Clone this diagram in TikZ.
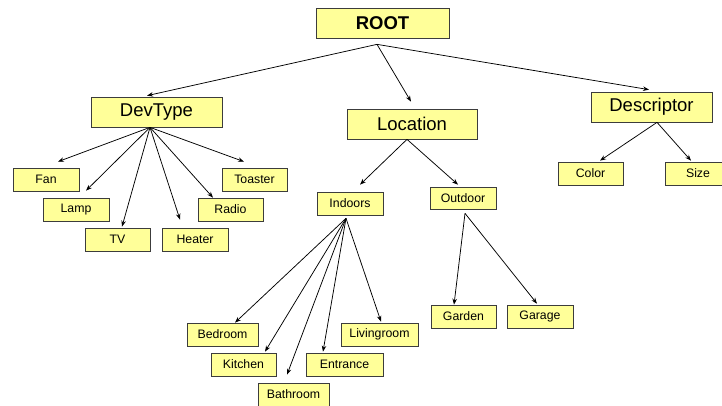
\documentclass[tikz,border=0pt]{standalone}
\usepackage{fontspec}
\setmainfont{Liberation Sans}
\usetikzlibrary{arrows.meta,shadows}
\definecolor{boxfill}{RGB}{255,255,153}
\definecolor{boxline}{RGB}{60,60,60}
\tikzset{
  box/.style={draw=boxline, line width=0.7pt, fill=boxfill, inner sep=0pt,
    drop shadow={shadow xshift=1.4pt, shadow yshift=-1.4pt, fill=black!75, opacity=1}},
  bigbox/.style={box, minimum height=30pt, font=\fontsize{18.5}{20}\selectfont},
  smallbox/.style={box, minimum height=23pt, font=\fontsize{12.3}{14}\selectfont},
  link/.style={line width=0.75pt, -{Stealth[length=6pt,width=4.5pt]}}
}
\begin{document}
\begin{tikzpicture}[x=1pt,y=-1pt]
\useasboundingbox (0,0) rectangle (722,405);

% top level
\node[bigbox, minimum width=133pt, font=\fontsize{18.5}{20}\selectfont\bfseries] (root) at (382.5,23) {ROOT};
\node[bigbox, minimum width=131pt] (devtype) at (156.5,112) {DevType};
\node[bigbox, minimum width=130pt] (location) at (412,124) {Location};
\node[bigbox, minimum width=121pt] (descriptor) at (651.5,107) {Descriptor};

% device types
\node[smallbox, minimum width=66pt] (fan) at (46,179.5) {Fan};
\node[smallbox, minimum width=66pt] (lamp) at (76,209.5) {Lamp};
\node[smallbox, minimum width=65pt] (tv) at (117.5,239.5) {TV};
\node[smallbox, minimum width=66pt] (heater) at (195,239.5) {Heater};
\node[smallbox, minimum width=65pt] (radio) at (230.5,209.5) {Radio};
\node[smallbox, minimum width=65pt] (toaster) at (254.5,179.5) {Toaster};

% locations
\node[smallbox, minimum width=66pt] (indoors) at (350,203.5) {Indoors};
\node[smallbox, minimum width=66pt, minimum height=22pt] (outdoor) at (463,198) {Outdoor};
\node[smallbox, minimum width=71pt] (bedroom) at (222.5,334.5) {Bedroom};
\node[smallbox, minimum width=65pt] (kitchen) at (243.5,364.5) {Kitchen};
\node[smallbox, minimum width=71pt] (bathroom) at (293.5,394.5) {Bathroom};
\node[smallbox, minimum width=77pt] (entrance) at (344.5,364.5) {Entrance};
\node[smallbox, minimum width=77pt] (livingroom) at (379.5,334.5) {Livingroom};
\node[smallbox, minimum width=65pt] (garden) at (463.5,316.5) {Garden};
\node[smallbox, minimum width=66pt] (garage) at (540,316.5) {Garage};

% descriptors
\node[smallbox, minimum width=65pt] (color) at (590.5,173.5) {Color};
\node[smallbox, minimum width=66pt] (size) at (698,173.5) {Size};

% fan-out points below each parent
\coordinate (roothub) at ([shift={(-5.5,6)}]root.south);
\coordinate (devhub) at ([shift={(-6.5,0)}]devtype.south);
\coordinate (lochub) at ([shift={(-5,0)}]location.south);
\coordinate (deschub) at ([shift={(5.5,0)}]descriptor.south);
\coordinate (inhub) at ([shift={(-4,3)}]indoors.south);
\coordinate (outhub) at ([shift={(2,4)}]outdoor.south);

\draw[link] (roothub) -- ([shift={(-9.5,-1)}]devtype.north);
\draw[link] (roothub) -- ([shift={(-1,-7)}]location.north);
\draw[link] (roothub) -- ([shift={(-2.5,-2)}]descriptor.north);

\draw[link] (devhub) -- ([shift={(12,-6)}]fan.north);
\draw[link] (devhub) -- ([shift={(10,-7)}]lamp.north);
\draw[link] (devhub) -- ([shift={(4.5,-1)}]tv.north);
\draw[link] (devhub) -- ([shift={(-15,-8)}]heater.north);
\draw[link] (devhub) -- ([shift={(-17.5,0)}]radio.north);
\draw[link] (devhub) -- ([shift={(-10.5,-6)}]toaster.north);

\draw[link] (lochub) -- ([shift={(10,-7)}]indoors.north);
\draw[link] (lochub) -- ([shift={(-5,-2)}]outdoor.north);

\draw[link] (inhub) -- ([shift={(12.5,0)}]bedroom.north);
\draw[link] (inhub) -- ([shift={(21.5,-1)}]kitchen.north);
\draw[link] (inhub) -- ([shift={(-6.5,-8)}]bathroom.north);
\draw[link] (inhub) -- ([shift={(-21.5,-1)}]entrance.north);
\draw[link] (inhub) -- ([shift={(1.5,-1)}]livingroom.north);

\draw[link] (outhub) -- ([shift={(-9.5,0)}]garden.north);
\draw[link] (outhub) -- ([shift={(-3,-1)}]garage.north);

\draw[link] (deschub) -- ([shift={(9.5,-1)}]color.north);
\draw[link] (deschub) -- ([shift={(-7,-1)}]size.north);
\end{tikzpicture}
\end{document}
